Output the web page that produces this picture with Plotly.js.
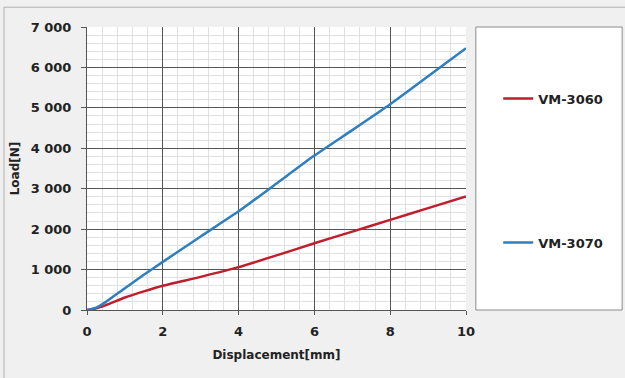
<!DOCTYPE html>
<html>
<head>
<meta charset="utf-8">
<script src="https://cdn.plot.ly/plotly-3.0.1.min.js"></script>
<style>
  html, body { margin: 0; padding: 0; background: #f0f0f0; }
  #chart { width: 625px; height: 378px; }
</style>
</head>
<body>
<div id="chart"></div>
<script>
// Displacement [mm]
const dispRed  = [0, 0.25, 0.5, 1, 1.5, 2, 3, 4, 5, 6, 7, 8, 9, 10];
const loadRed  = [0, 40, 120, 310, 460, 600, 820, 1060, 1350, 1650, 1940, 2230, 2520, 2810];
const dispBlue = [0, 0.25, 0.5, 1, 1.5, 2, 3, 4, 5, 6, 7, 8, 9, 10];
const loadBlue = [0, 60, 200, 540, 870, 1190, 1820, 2440, 3130, 3820, 4450, 5090, 5780, 6475];
const seriesNames = ["VM-3060", "VM-3070"];
const xTicks = [0, 2, 4, 6, 8, 10];
const yTicks = [0, 1000, 2000, 3000, 4000, 5000, 6000, 7000];

const font = "'DejaVu Sans', 'Liberation Sans', sans-serif";
const boldFont = (s) => ({ family: font, size: s, color: "#222", weight: "bold" });

const traces = [
  { x: dispRed, y: loadRed, name: seriesNames[0], mode: "lines", legendgroup: "a",
    line: { color: "#be1e2d", width: 2.5, shape: "spline", smoothing: 0.5 } },
  { x: dispBlue, y: loadBlue, name: seriesNames[1], mode: "lines", legendgroup: "b",
    line: { color: "#2e7fc0", width: 2.5, shape: "spline", smoothing: 0.5 } }
];

const layout = {
  width: 625, height: 378,
  paper_bgcolor: "#f0f0f0",
  plot_bgcolor: "#ffffff",
  separators: ". ",
  margin: { l: 87, r: 159, t: 27, b: 68, pad: 0 },
  font: { family: font, size: 13, color: "#222" },
  showlegend: true,
  legend: {
    x: 1.085, xanchor: "left", y: 0.80, yanchor: "top",
    bgcolor: "rgba(0,0,0,0)", tracegroupgap: 124,
    font: boldFont(13)
  },
  xaxis: {
    range: [0, 10], tickvals: xTicks, ticks: "outside", ticklen: 4, tickcolor: "#555",
    ticklabelstandoff: 5,
    showline: true, linecolor: "#555", linewidth: 1, mirror: false,
    showgrid: true, gridcolor: "#555", gridwidth: 1, zeroline: false,
    tickfont: boldFont(13),
    minor: { dtick: 0.4, showgrid: true, gridcolor: "#e0e0e0", gridwidth: 1 },
    title: { text: "Displacement[mm]", standoff: 13, font: boldFont(12) }
  },
  yaxis: {
    range: [0, 7000], tickvals: yTicks, tickformat: ",d", ticks: "outside", ticklen: 5, tickcolor: "#555",
    ticklabelstandoff: 7,
    showline: true, linecolor: "#555", linewidth: 1,
    showgrid: true, gridcolor: "#555", gridwidth: 1, zeroline: false,
    tickfont: boldFont(13),
    minor: { dtick: 200, showgrid: true, gridcolor: "#e0e0e0", gridwidth: 1 },
    title: { text: "Load[N]", standoff: 8, font: boldFont(12) }
  },
  shapes: [
    { type: "rect", xref: "paper", yref: "paper", x0: 1.026, x1: 1.412, y0: 0, y1: 1,
      fillcolor: "#ffffff", line: { color: "#8c8c8c", width: 1 }, layer: "below" },
    { type: "rect", xref: "paper", yref: "paper", x0: -0.219, x1: 1.45, y0: -0.3, y1: 1.07,
      fillcolor: "rgba(0,0,0,0)", line: { color: "#b0b0b0", width: 1 }, layer: "below" }
  ]
};

Plotly.newPlot("chart", traces, layout, { displayModeBar: false, staticPlot: true });
</script>
</body>
</html>
